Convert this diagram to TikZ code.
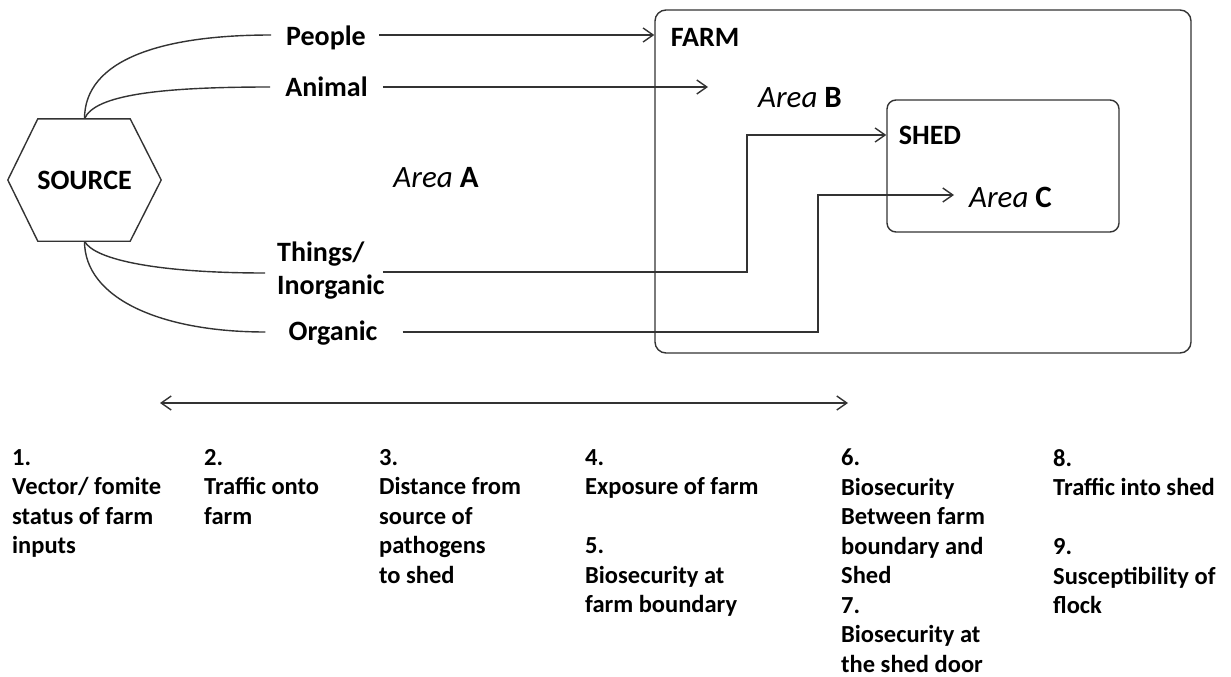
\documentclass[tikz,border=0pt]{standalone}
\usepackage{fontspec}
\setmainfont{Carlito}
\usepackage{tikz}
\usetikzlibrary{
  arrows.meta,
  positioning,
  calc
}
\tikzset{
  link/.style    = {line width=1.4pt, black!80},
  flow/.style    = {-{Straight Barb[length=10pt, width=14pt]}, line width=1.4pt, black!80},
  span/.style    = {{Straight Barb[length=10pt, width=14pt]}-{Straight Barb[length=10pt, width=14pt]},
                    line width=1.4pt, black!80},
  region/.style  = {draw, line width=1.4pt, black!80, rounded corners=11pt, inner sep=0pt},
  lbl/.style     = {font=\fontsize{28}{33}\selectfont\bfseries, inner sep=0pt},
  area/.style    = {font=\fontsize{31}{36}\selectfont, inner sep=0pt},
  factor/.style  = {font=\fontsize{24.5}{29.5}\selectfont\bfseries, align=left,
                    anchor=north west, inner sep=0pt},
}

\begin{document}
\begin{tikzpicture}[x=1pt, y=-1pt]
    \useasboundingbox (0,0) rectangle (1231,677);

    % Source hexagon
    \node[lbl, minimum width=153pt, minimum height=122pt] (src) at (84.5,180) {SOURCE};
    \draw[link] (src.west) -- ([xshift=30pt]src.north west) -- ([xshift=-31pt]src.north east)
        -- (src.east) -- ([xshift=-31pt]src.south east) -- ([xshift=30pt]src.south west) -- cycle;

    % Farm and shed
    \node[region, minimum width=536pt, minimum height=343pt] (farm) at (923,181.5) {};
    \node[region, rounded corners=9pt, minimum width=232pt, minimum height=132pt] (shed) at (1003,166) {};
    \node[lbl] (farmlbl) at (705,37) {FARM};
    \node[lbl] (shedlbl) at (930,135) {SHED};

    % Areas
    \node[area] (areaA) at (436,178) {\itshape Area \upshape\bfseries A};
    \node[area] (areaB) at (800,97.5) {\itshape Area \upshape\bfseries B};
    \node[area] (areaC) at (1010.5,197) {\itshape Area \upshape\bfseries C};

    % Routes
    \node[lbl] (people) at (326,38) {People};
    \node[lbl] (animal) at (326.5,87) {Animal};
    \node[lbl, anchor=west, align=left] (things) at (277,271) {Things/\\Inorganic};
    \node[lbl] (organic) at (333,333) {Organic};

    \draw[link] (src.north) .. controls +(0,-59) and +(-110,0) .. ([xshift=-15pt,yshift=3pt]people.west);
    \draw[link] (src.north) .. controls +(10,-24) and +(-110,0) .. ([xshift=-15pt]animal.west);
    \draw[link] (src.south) .. controls +(10,19) and +(-105,0) .. ([xshift=-12pt,yshift=-2pt]things.west);
    \draw[link] (src.south) .. controls +(0,57) and +(-105,0) .. ([xshift=-23pt,yshift=1pt]organic.west);

    \coordinate (peopleOut)  at ([xshift=13pt,yshift=3pt]people.east);
    \coordinate (animalOut)  at ([xshift=15pt]animal.east);
    \coordinate (thingsOut)  at ([xshift=-2pt,yshift=-1pt]things.east);
    \coordinate (organicOut) at ([xshift=25pt,yshift=1pt]organic.east);
    \coordinate (areaBin)    at (708,87);
    \coordinate (thingsUp)   at (747,135);
    \coordinate (organicUp)  at (818,195);
    \coordinate (areaCin)    at (954,195);

    \draw[flow] (peopleOut) -- (peopleOut -| farm.west);
    \draw[flow] (animalOut) -- (areaBin);
    \draw[flow] (thingsOut) -| (thingsUp) -- (thingsUp -| shed.west);
    \draw[flow] (organicOut) -| (organicUp) -- (areaCin);

    % Range arrow
    \coordinate (rangeL) at (160,403);
    \coordinate (rangeR) at (848,403);
    \draw[span] (rangeL) -- (rangeR);

    % Risk factors
    \node[factor] (fac1) at (12,449)   {1.\\Vector/ fomite\\status of farm\\inputs};
    \node[factor] (fac2) at (204,449)  {2.\\Traffic onto\\farm};
    \node[factor] (fac3) at (379,449)  {3.\\Distance from\\source of\\pathogens\\to shed};
    \node[factor] (fac4) at (585,449)  {4.\\Exposure of farm\\[29.5pt]5.\\Biosecurity at\\farm boundary};
    \node[factor] (fac5) at (841,449)  {6.\\Biosecurity\\Between farm\\boundary and\\Shed\\7.\\Biosecurity at\\the shed door};
    \node[factor] (fac6) at (1053,449) {8.\\Traffic into shed\\[29.5pt]9.\\Susceptibility of\\flock};

\end{tikzpicture}
\end{document}
